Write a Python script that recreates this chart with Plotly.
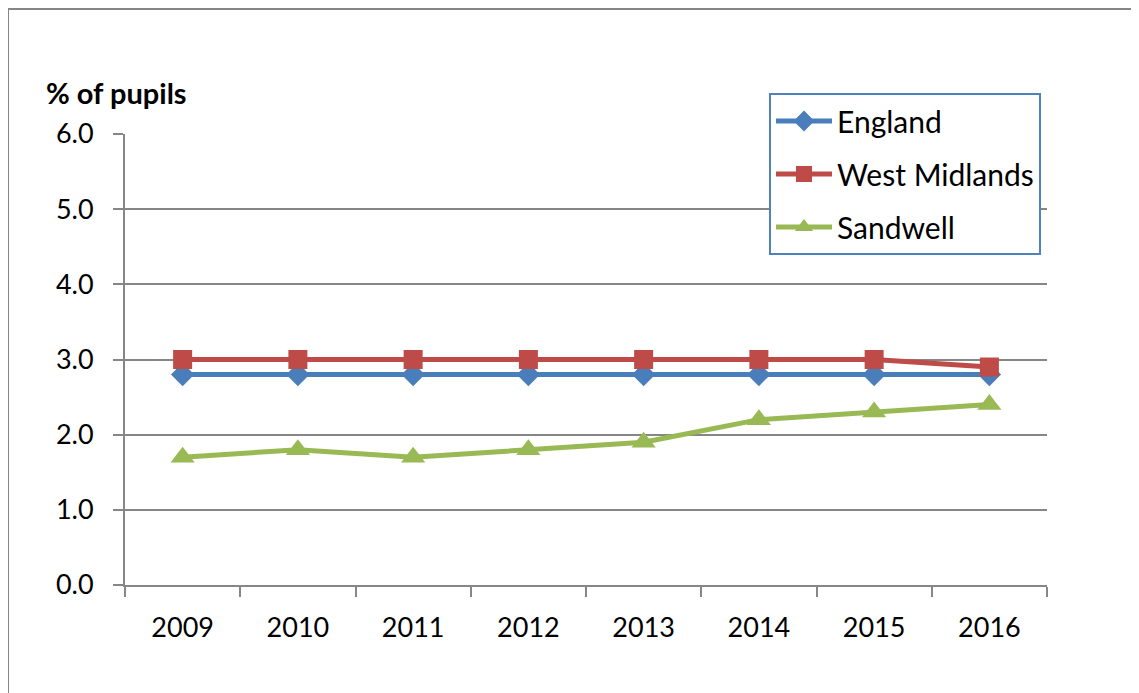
import plotly.graph_objects as go

years = ["2009", "2010", "2011", "2012", "2013", "2014", "2015", "2016"]
england = [2.8, 2.8, 2.8, 2.8, 2.8, 2.8, 2.8, 2.8]
west_midlands = [3.0, 3.0, 3.0, 3.0, 3.0, 3.0, 3.0, 2.9]
sandwell = [1.7, 1.8, 1.7, 1.8, 1.9, 2.2, 2.3, 2.4]

FONT = "Lato, 'Open Sans', sans-serif"

fig = go.Figure()
fig.add_trace(go.Scatter(x=years, y=england, name="England", mode="lines+markers",
                         line=dict(color="#4A7EBB", width=5),
                         marker=dict(symbol="diamond", size=18, color="#4A7EBB"),
                         legendgroup="a"))
fig.add_trace(go.Scatter(x=years, y=west_midlands, name="West Midlands", mode="lines+markers",
                         line=dict(color="#BE4B48", width=5),
                         marker=dict(symbol="square", size=19, color="#BE4B48"),
                         legendgroup="b"))
fig.add_trace(go.Scatter(x=years, y=sandwell, name="Sandwell", mode="lines+markers",
                         line=dict(color="#98B954", width=5),
                         marker=dict(symbol="triangle-up", size=21, color="#98B954"),
                         legendgroup="c"))

# page body has an 8px margin; compensate so the plot lands where the reference has it
OFF = 8
fig.update_layout(
    width=1139 - OFF, height=693 - OFF,
    margin=dict(l=125 - OFF, r=92, t=134 - OFF, b=108),
    paper_bgcolor="white", plot_bgcolor="white",
    font=dict(family=FONT, size=26, color="black"),
    showlegend=True,
    legend=dict(x=(769 - 125) / 922, y=(585 - 93) / 451, xanchor="left", yanchor="top",
                bordercolor="#4F81BD", borderwidth=2, bgcolor="white",
                font=dict(size=30), tracegroupgap=11, traceorder="grouped",
                itemwidth=56),
    xaxis=dict(type="category", range=[-0.5, 7.5], showgrid=False,
               showline=True, linecolor="#868686", linewidth=2,
               ticks="outside", tickson="boundaries", ticklen=10, tickcolor="#868686",
               tickwidth=2, tickfont=dict(size=27), ticklabelstandoff=18),
    yaxis=dict(range=[0, 6], dtick=1, tickformat=".1f", showgrid=True,
               gridcolor="#868686", gridwidth=2, zeroline=False,
               showline=True, linecolor="#868686", linewidth=2,
               ticks="outside", ticklen=10, tickcolor="#868686", tickwidth=2,
               tickfont=dict(size=27), ticklabelstandoff=14),
    annotations=[dict(text="<b>% of pupils</b>", xref="paper", yref="paper",
                      x=(44 - 125) / 922, y=(585 - 92) / 451, xanchor="left", yanchor="middle",
                      showarrow=False, font=dict(size=29, family=FONT))],
    shapes=[dict(type="rect", xref="paper", yref="paper",
                 x0=(8 - 125) / 922, x1=1.3, y0=-0.5, y1=(577 - 1) / 451,
                 line=dict(color="#868686", width=2), layer="below")],
)

fig.write_html("out.html")
